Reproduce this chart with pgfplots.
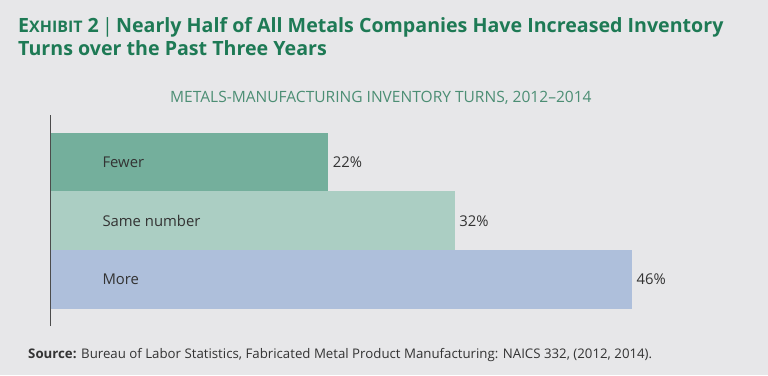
\documentclass[border=0pt]{standalone}
\usepackage{fontspec}
\setmainfont{Open Sans}
\usepackage{pgfplots}
\pgfplotsset{compat=1.18}
\definecolor{bgc}{HTML}{E7E7E9}
\definecolor{titlegreen}{HTML}{1E7A55}
\definecolor{subgreen}{HTML}{4C8E74}
\definecolor{cfewer}{HTML}{74AF9C}
\definecolor{csame}{HTML}{ABCEC3}
\definecolor{cmore}{HTML}{AEBFDB}
\definecolor{txt}{HTML}{333333}
\begin{document}
\begin{tikzpicture}[x=1bp,y=1bp]
\fill[bgc] (0,0) rectangle (768,375);
% title
\node[anchor=base west,inner sep=0,text=titlegreen,font=\fontsize{19.7}{22}\selectfont\bfseries] at (18,{375-32})
  {E{\fontsize{16}{18}\selectfont XHIBIT} 2\,{\mdseries|}\,Nearly Half of All Metals Companies Have Increased Inventory};
\node[anchor=base west,inner sep=0,text=titlegreen,font=\fontsize{19.7}{22}\selectfont\bfseries] at (18,{375-55.7})
  {Turns over the Past Three Years};
% subtitle
\node[anchor=base west,inner sep=0,text=subgreen,font=\fontsize{15.6}{18}\selectfont] at (170,{375-102.3})
  {METALS-MANUFACTURING INVENTORY TURNS, 2012--2014};
% source
\node[anchor=base west,inner sep=0,text=txt,font=\fontsize{13.3}{15}\selectfont] at (28,{375-358})
  {\textbf{Source:} Bureau of Labor Statistics, Fabricated Metal Product Manufacturing: NAICS 332, (2012, 2014).};
\begin{axis}[
  at={(50bp,49bp)}, anchor=south west,
  scale only axis, width=582bp, height=211bp,
  xmin=0, xmax=46, ymin=-0.79, ymax=2.80,
  axis x line=none, axis y line=left,
  axis line style={-, draw=black!70, line width=0.9pt},
  axis on top,
  /pgf/number format/assume math mode=true,
  xtick=\empty, ytick={0,1,2},
  yticklabels={More,Same number,Fewer},
  major tick length=0pt,
  yticklabel style={anchor=west, xshift=49bp, font=\fontsize{14.9}{17}\selectfont, text=txt},
  xbar, bar shift=0pt, bar width=58.8bp,
  point meta=x,
  nodes near coords={\pgfmathprintnumber{\pgfplotspointmeta}\%},
  nodes near coords style={anchor=west, font=\fontsize{14.9}{17}\selectfont, text=txt, xshift=1bp},
  clip=false,
]
\addplot[fill=cfewer, draw=none] coordinates {(22,2)};
\addplot[fill=csame, draw=none] coordinates {(32,1)};
\addplot[fill=cmore, draw=none] coordinates {(46,0)};
\end{axis}
\end{tikzpicture}
\end{document}
